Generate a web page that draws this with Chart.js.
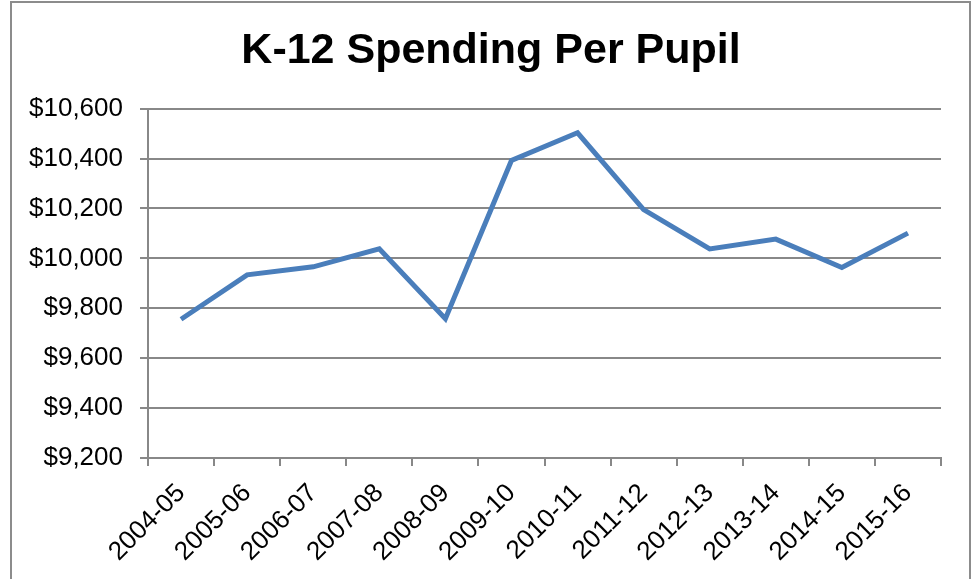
<!DOCTYPE html>
<html>
<head>
<meta charset="utf-8">
<script src="https://cdn.jsdelivr.net/npm/chart.js@4.4.0/dist/chart.umd.min.js"></script>
<style>
  html, body { margin: 0; padding: 0; background: #fff; overflow: hidden; }
  #wrap { position: relative; width: 972px; height: 579px; }
  #frame {
    position: absolute; left: 10px; top: 1px; width: 961px; height: 620px;
    border: 2px solid #8c8c8c; box-sizing: border-box;
  }
  canvas { position: absolute; left: 0; top: 0; }
</style>
</head>
<body>
<div id="wrap">
  <div id="frame"></div>
  <canvas id="myChart" width="972" height="579"></canvas>
</div>
<script>
// data
const years = [
  "2004-05", "2005-06", "2006-07", "2007-08", "2008-09", "2009-10",
  "2010-11", "2011-12", "2012-13", "2013-14", "2014-15", "2015-16",
];
const spending = [9756, 9934, 9966, 10038, 9758, 10392, 10503, 10195, 10038, 10077, 9963, 10101];
const yTicks = [9200, 9400, 9600, 9800, 10000, 10200, 10400, 10600];

const fontFamily = "'Liberation Sans', Arial, Helvetica, sans-serif";

function initChart() {
  const ctx = document.getElementById("myChart");

  new Chart(ctx, {
    type: "line",
    data: {
      labels: years,
      datasets: [
        {
          label: "Spending per pupil",
          data: spending,
          borderColor: "#4a7ebb",
          borderWidth: 5,
          pointRadius: 0,
          tension: 0,
          fill: false,
        },
      ],
    },
    options: {
      responsive: false,
      animation: { duration: 0 },
      layout: {
        // title centre sits over the whole frame, not the plot
        padding: { left: 10, right: 0, top: 0, bottom: 0 },
      },
      scales: {
        y: {
          min: yTicks[0],
          max: yTicks[yTicks.length - 1],
          afterBuildTicks: (axis) => {
            axis.ticks = yTicks.map((v) => ({ value: v }));
          },
          afterFit: (axis) => {
            axis.width = 138;
          },
          ticks: {
            color: "#000",
            padding: 17,
            font: { family: fontFamily, size: 26 },
            callback: (v) => "$" + v.toLocaleString("en-US"),
          },
          grid: {
            color: "#888888",
            lineWidth: 2,
            tickLength: 8,
          },
          border: { color: "#888888", width: 2 },
        },
        // empty spacer on the right
        yRight: {
          position: "right",
          afterFit: (axis) => {
            axis.width = 31;
          },
          ticks: { display: false },
          grid: { display: false },
          border: { display: false },
        },
        x: {
          offset: true,
          afterFit: (axis) => {
            axis.height = 121;
          },
          ticks: {
            color: "#000",
            maxRotation: 45,
            minRotation: 45,
            padding: 12,
            font: { family: fontFamily, size: 26 },
          },
          grid: {
            offset: true,
            drawOnChartArea: false,
            color: "#888888",
            lineWidth: 2,
            tickLength: 8,
          },
          border: { color: "#888888", width: 2 },
        },
      },
      plugins: {
        legend: { display: false },
        tooltip: { enabled: false },
        title: {
          display: true,
          text: "K-12 Spending Per Pupil",
          color: "#000",
          font: { family: fontFamily, size: 43, weight: "bold" },
          padding: { top: 25, bottom: 32 },
        },
      },
    },
  });
}

document.addEventListener("DOMContentLoaded", initChart);
</script>
</body>
</html>
